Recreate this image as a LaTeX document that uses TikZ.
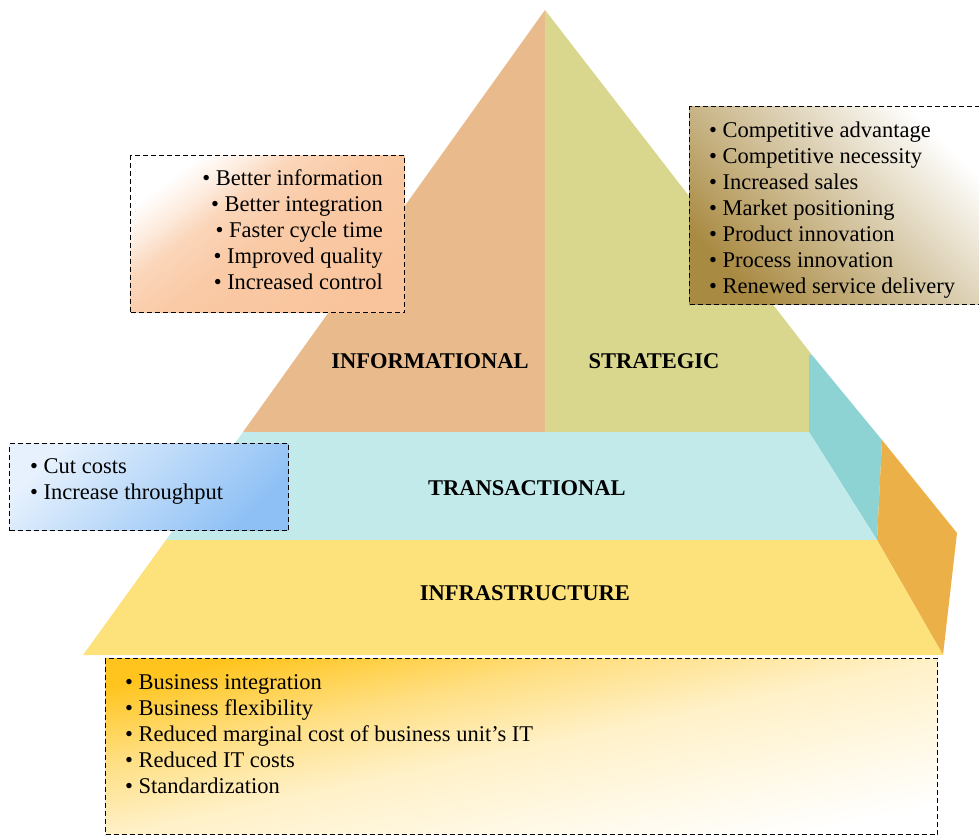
\documentclass[tikz,border=0pt]{standalone}
\usepackage{fontspec}
\setmainfont{Liberation Serif}
\usetikzlibrary{calc, positioning}
\definecolor{infoface}{HTML}{E8BA8C}
\definecolor{stratface}{HTML}{D8D78D}
\definecolor{transface}{HTML}{C2EAEA}
\definecolor{transside}{HTML}{8DD3D3}
\definecolor{infraface}{HTML}{FDE27C}
\definecolor{infraside}{HTML}{EBB148}
\definecolor{infoshade}{HTML}{F9C49C}
\definecolor{stratshade}{HTML}{A98A42}
\definecolor{transshade}{HTML}{8EC0F5}
\definecolor{translight}{HTML}{E6F1FD}
\definecolor{infrashade}{HTML}{FFC51E}
% box fills, 0bp at the bottom
\pgfdeclareverticalshading{infofade}{100bp}{%
    color(0bp)=(infoshade); color(25bp)=(infoshade);
    color(50bp)=(infoshade!90!white); color(61bp)=(infoshade!70!white);
    color(68bp)=(infoshade!30!white); color(75bp)=(white); color(100bp)=(white)}
\pgfdeclareverticalshading{infrafade}{100bp}{%
    color(0bp)=(white); color(25bp)=(white);
    color(50bp)=(infrashade!25!white); color(62bp)=(infrashade!55!white);
    color(75bp)=(infrashade); color(100bp)=(infrashade)}
\tikzset{
    notebox/.style={
        draw=black, line width=1.1pt, dash pattern=on 5pt off 3pt,
        anchor=north west
    }
}
\tikzset{
    level/.style={font=\fontsize{22.5}{26}\selectfont\bfseries},
    item/.style={font=\fontsize{22.5}{26}\selectfont}
}

\begin{document}
\begin{tikzpicture}[x=1pt, y=-1pt]
    \tikzstyle{every node}=[inner sep=0pt];
    \useasboundingbox (0,0) rectangle (979,836);
    % pyramid corners
    \coordinate (top) at (545,10);
    \coordinate (l1) at (243,432);
    \coordinate (m1) at (545,432);
    \coordinate (r1) at (809,432);
    \coordinate (r0) at (809,355);
    \coordinate (e0) at (812,355);
    \coordinate (e1) at (882,440);
    \coordinate (e2) at (957,533);
    \coordinate (l2) at (166,540);
    \coordinate (r2) at (877,540);
    \coordinate (l3) at (83,655);
    \coordinate (r3) at (943,655);
    \fill[infoface] (top) -- (l1) -- (m1) -- cycle;
    \fill[stratface] (top) -- (m1) -- (r1) -- (r0) -- (e0) -- cycle;
    \fill[transside] (e0) -- (e1) -- (r2) -- (r1) -- (r0) -- cycle;
    \fill[transface] (l1) -- (r1) -- (r2) -- (l2) -- cycle;
    \fill[infraside] (e1) -- (e2) -- (r3) -- (r2) -- cycle;
    \fill[infraface] (l2) -- (r2) -- (r3) -- (l3) -- cycle;
    % level names
    \node[level, anchor=base] (informational) at (430,368) {INFORMATIONAL};
    \node[level, anchor=base] (strategic) at (654,368) {STRATEGIC};
    \node[level, anchor=base] (transactional) at (527,495) {TRANSACTIONAL};
    \node[level, anchor=base] (infrastructure) at (525,600) {INFRASTRUCTURE};
    % boxes
    \node[notebox, shading=infofade, shading angle=37, minimum width=274pt, minimum height=157pt] (infobox) at (130,155) {};
    \node[notebox, top color=white, bottom color=stratshade, shading angle=-45, minimum width=294pt, minimum height=198pt] (stratbox) at (689,106) {};
    \node[notebox, top color=translight, bottom color=transshade, shading angle=45, minimum width=279pt, minimum height=87pt] (transbox) at (9,443) {};
    \node[notebox, shading=infrafade, shading angle=12, minimum width=832pt, minimum height=176pt] (infrabox) at (105,658) {};
    % lists
    \foreach \txt [count=\i] in {Better information, Better integration, Faster cycle time, Improved quality, Increased control}
        \node[item, anchor=base east] (info\i) at (383, {159+26*\i}) {\textbullet\ \txt};
    \foreach \txt [count=\i] in {Competitive advantage, Competitive necessity, Increased sales, Market positioning, Product innovation, Process innovation, Renewed service delivery}
        \node[item, anchor=base west] (strat\i) at (709, {111+26*\i}) {\textbullet\ \txt};
    \foreach \txt [count=\i] in {Cut costs, Increase throughput}
        \node[item, anchor=base west] (trans\i) at (30, {447+26*\i}) {\textbullet\ \txt};
    \foreach \txt [count=\i] in {Business integration, Business flexibility, Reduced marginal cost of business unit’s IT, Reduced IT costs, Standardization}
        \node[item, anchor=base west] (infra\i) at (125, {663+26*\i}) {\textbullet\ \txt};
\end{tikzpicture}
\end{document}
